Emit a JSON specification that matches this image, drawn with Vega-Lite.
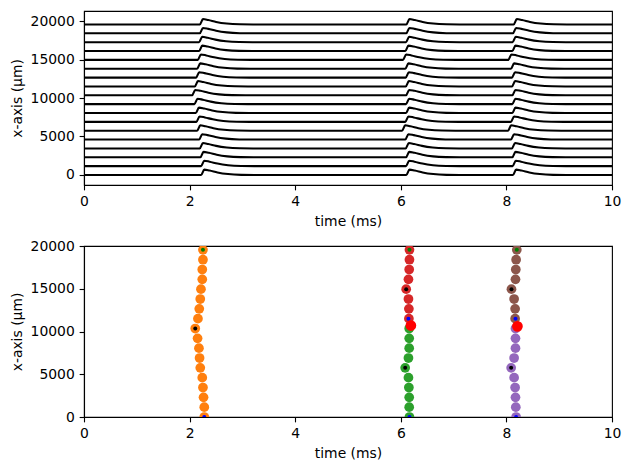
{
  "$schema": "https://vega.github.io/schema/vega-lite/v6.json",
  "autosize": {"type": "pad"},
  "padding": {"left": 9, "top": 10, "right": 5, "bottom": 5},
  "background": "white",
  "bounds": "flush",
  "spacing": 61,
  "config": {
    "view": {"stroke": "black", "strokeWidth": 1.11},
    "axis": {
      "labelFont": "DejaVu Sans", "labelFontSize": 13.9, "labelColor": "black",
      "titleFont": "DejaVu Sans", "titleFontSize": 13.9, "titleFontWeight": "normal", "titleColor": "black",
      "tickColor": "black", "tickSize": 4.86, "tickWidth": 1.11,
      "domainColor": "black", "domainWidth": 1.11,
      "labelPadding": 4.86, "titlePadding": 5.56, "format": "d",
      "labelFlush": false, "labelOverlap": false, "grid": false
    }
  },
  "datasets": {
    "traces": [
      {"i":0,"t":0,"y":0},
      {"i":0,"t":2.218,"y":0},{"i":0,"t":2.278,"y":700},{"i":0,"t":2.378,"y":580},{"i":0,"t":2.528,"y":330},{"i":0,"t":2.728,"y":120},{"i":0,"t":2.978,"y":20},{"i":0,"t":3.228,"y":0},
      {"i":0,"t":6.104,"y":0},{"i":0,"t":6.164,"y":700},{"i":0,"t":6.264,"y":580},{"i":0,"t":6.414,"y":330},{"i":0,"t":6.614,"y":120},{"i":0,"t":6.864,"y":20},{"i":0,"t":7.114,"y":0},
      {"i":0,"t":8.124,"y":0},{"i":0,"t":8.184,"y":700},{"i":0,"t":8.284,"y":580},{"i":0,"t":8.434,"y":330},{"i":0,"t":8.634,"y":120},{"i":0,"t":8.884,"y":20},{"i":0,"t":9.134,"y":0},
      {"i":0,"t":10,"y":0},

      {"i":1,"t":0,"y":1150},
      {"i":1,"t":2.218,"y":1150},{"i":1,"t":2.278,"y":1850},{"i":1,"t":2.378,"y":1730},{"i":1,"t":2.528,"y":1480},{"i":1,"t":2.728,"y":1270},{"i":1,"t":2.978,"y":1170},{"i":1,"t":3.228,"y":1150},
      {"i":1,"t":6.099,"y":1150},{"i":1,"t":6.159,"y":1850},{"i":1,"t":6.259,"y":1730},{"i":1,"t":6.409,"y":1480},{"i":1,"t":6.609,"y":1270},{"i":1,"t":6.859,"y":1170},{"i":1,"t":7.109,"y":1150},
      {"i":1,"t":8.118,"y":1150},{"i":1,"t":8.178,"y":1850},{"i":1,"t":8.278,"y":1730},{"i":1,"t":8.428,"y":1480},{"i":1,"t":8.628,"y":1270},{"i":1,"t":8.878,"y":1170},{"i":1,"t":9.128,"y":1150},
      {"i":1,"t":10,"y":1150},

      {"i":2,"t":0,"y":2300},
      {"i":2,"t":2.204,"y":2300},{"i":2,"t":2.264,"y":3000},{"i":2,"t":2.364,"y":2880},{"i":2,"t":2.514,"y":2630},{"i":2,"t":2.714,"y":2420},{"i":2,"t":2.964,"y":2320},{"i":2,"t":3.214,"y":2300},
      {"i":2,"t":6.099,"y":2300},{"i":2,"t":6.159,"y":3000},{"i":2,"t":6.259,"y":2880},{"i":2,"t":6.409,"y":2630},{"i":2,"t":6.609,"y":2420},{"i":2,"t":6.859,"y":2320},{"i":2,"t":7.109,"y":2300},
      {"i":2,"t":8.112,"y":2300},{"i":2,"t":8.172,"y":3000},{"i":2,"t":8.272,"y":2880},{"i":2,"t":8.422,"y":2630},{"i":2,"t":8.622,"y":2420},{"i":2,"t":8.872,"y":2320},{"i":2,"t":9.122,"y":2300},
      {"i":2,"t":10,"y":2300},

      {"i":3,"t":0,"y":3450},
      {"i":3,"t":2.193,"y":3450},{"i":3,"t":2.253,"y":4150},{"i":3,"t":2.353,"y":4030},{"i":3,"t":2.503,"y":3780},{"i":3,"t":2.703,"y":3570},{"i":3,"t":2.953,"y":3470},{"i":3,"t":3.203,"y":3450},
      {"i":3,"t":6.093,"y":3450},{"i":3,"t":6.153,"y":4150},{"i":3,"t":6.253,"y":4030},{"i":3,"t":6.403,"y":3780},{"i":3,"t":6.603,"y":3570},{"i":3,"t":6.853,"y":3470},{"i":3,"t":7.103,"y":3450},
      {"i":3,"t":8.105,"y":3450},{"i":3,"t":8.165,"y":4150},{"i":3,"t":8.265,"y":4030},{"i":3,"t":8.415,"y":3780},{"i":3,"t":8.615,"y":3570},{"i":3,"t":8.865,"y":3470},{"i":3,"t":9.115,"y":3450},
      {"i":3,"t":10,"y":3450},

      {"i":4,"t":0,"y":4600},
      {"i":4,"t":2.180,"y":4600},{"i":4,"t":2.240,"y":5300},{"i":4,"t":2.340,"y":5180},{"i":4,"t":2.490,"y":4930},{"i":4,"t":2.690,"y":4720},{"i":4,"t":2.940,"y":4620},{"i":4,"t":3.190,"y":4600},
      {"i":4,"t":6.085,"y":4600},{"i":4,"t":6.145,"y":5300},{"i":4,"t":6.245,"y":5180},{"i":4,"t":6.395,"y":4930},{"i":4,"t":6.595,"y":4720},{"i":4,"t":6.845,"y":4620},{"i":4,"t":7.095,"y":4600},
      {"i":4,"t":8.086,"y":4600},{"i":4,"t":8.146,"y":5300},{"i":4,"t":8.246,"y":5180},{"i":4,"t":8.396,"y":4930},{"i":4,"t":8.596,"y":4720},{"i":4,"t":8.846,"y":4620},{"i":4,"t":9.096,"y":4600},
      {"i":4,"t":10,"y":4600},

      {"i":5,"t":0,"y":5750},
      {"i":5,"t":2.142,"y":5750},{"i":5,"t":2.202,"y":6450},{"i":5,"t":2.302,"y":6330},{"i":5,"t":2.452,"y":6080},{"i":5,"t":2.652,"y":5870},{"i":5,"t":2.902,"y":5770},{"i":5,"t":3.152,"y":5750},
      {"i":5,"t":6.023,"y":5750},{"i":5,"t":6.083,"y":6450},{"i":5,"t":6.183,"y":6330},{"i":5,"t":6.333,"y":6080},{"i":5,"t":6.533,"y":5870},{"i":5,"t":6.783,"y":5770},{"i":5,"t":7.033,"y":5750},
      {"i":5,"t":8.030,"y":5750},{"i":5,"t":8.090,"y":6450},{"i":5,"t":8.190,"y":6330},{"i":5,"t":8.340,"y":6080},{"i":5,"t":8.540,"y":5870},{"i":5,"t":8.790,"y":5770},{"i":5,"t":9.040,"y":5750},
      {"i":5,"t":10,"y":5750},

      {"i":6,"t":0,"y":6900},
      {"i":6,"t":2.129,"y":6900},{"i":6,"t":2.189,"y":7600},{"i":6,"t":2.289,"y":7480},{"i":6,"t":2.439,"y":7230},{"i":6,"t":2.639,"y":7020},{"i":6,"t":2.889,"y":6920},{"i":6,"t":3.139,"y":6900},
      {"i":6,"t":6.085,"y":6900},{"i":6,"t":6.145,"y":7600},{"i":6,"t":6.245,"y":7480},{"i":6,"t":6.395,"y":7230},{"i":6,"t":6.595,"y":7020},{"i":6,"t":6.845,"y":6920},{"i":6,"t":7.095,"y":6900},
      {"i":6,"t":8.086,"y":6900},{"i":6,"t":8.146,"y":7600},{"i":6,"t":8.246,"y":7480},{"i":6,"t":8.396,"y":7230},{"i":6,"t":8.596,"y":7020},{"i":6,"t":8.846,"y":6920},{"i":6,"t":9.096,"y":6900},
      {"i":6,"t":10,"y":6900},

      {"i":7,"t":0,"y":8050},
      {"i":7,"t":2.117,"y":8050},{"i":7,"t":2.177,"y":8750},{"i":7,"t":2.277,"y":8630},{"i":7,"t":2.427,"y":8380},{"i":7,"t":2.627,"y":8170},{"i":7,"t":2.877,"y":8070},{"i":7,"t":3.127,"y":8050},
      {"i":7,"t":6.099,"y":8050},{"i":7,"t":6.159,"y":8750},{"i":7,"t":6.259,"y":8630},{"i":7,"t":6.409,"y":8380},{"i":7,"t":6.609,"y":8170},{"i":7,"t":6.859,"y":8070},{"i":7,"t":7.109,"y":8050},
      {"i":7,"t":8.112,"y":8050},{"i":7,"t":8.172,"y":8750},{"i":7,"t":8.272,"y":8630},{"i":7,"t":8.422,"y":8380},{"i":7,"t":8.622,"y":8170},{"i":7,"t":8.872,"y":8070},{"i":7,"t":9.122,"y":8050},
      {"i":7,"t":10,"y":8050},

      {"i":8,"t":0,"y":9200},
      {"i":8,"t":2.091,"y":9200},{"i":8,"t":2.151,"y":9900},{"i":8,"t":2.251,"y":9780},{"i":8,"t":2.401,"y":9530},{"i":8,"t":2.601,"y":9320},{"i":8,"t":2.851,"y":9220},{"i":8,"t":3.101,"y":9200},
      {"i":8,"t":6.099,"y":9200},{"i":8,"t":6.159,"y":9900},{"i":8,"t":6.259,"y":9780},{"i":8,"t":6.409,"y":9530},{"i":8,"t":6.609,"y":9320},{"i":8,"t":6.859,"y":9220},{"i":8,"t":7.109,"y":9200},
      {"i":8,"t":8.112,"y":9200},{"i":8,"t":8.172,"y":9900},{"i":8,"t":8.272,"y":9780},{"i":8,"t":8.422,"y":9530},{"i":8,"t":8.622,"y":9320},{"i":8,"t":8.872,"y":9220},{"i":8,"t":9.122,"y":9200},
      {"i":8,"t":10,"y":9200},

      {"i":9,"t":0,"y":10350},
      {"i":9,"t":2.047,"y":10350},{"i":9,"t":2.107,"y":11050},{"i":9,"t":2.207,"y":10930},{"i":9,"t":2.357,"y":10680},{"i":9,"t":2.557,"y":10470},{"i":9,"t":2.807,"y":10370},{"i":9,"t":3.057,"y":10350},
      {"i":9,"t":6.099,"y":10350},{"i":9,"t":6.159,"y":11050},{"i":9,"t":6.259,"y":10930},{"i":9,"t":6.409,"y":10680},{"i":9,"t":6.609,"y":10470},{"i":9,"t":6.859,"y":10370},{"i":9,"t":7.109,"y":10350},
      {"i":9,"t":8.112,"y":10350},{"i":9,"t":8.172,"y":11050},{"i":9,"t":8.272,"y":10930},{"i":9,"t":8.422,"y":10680},{"i":9,"t":8.622,"y":10470},{"i":9,"t":8.872,"y":10370},{"i":9,"t":9.122,"y":10350},
      {"i":9,"t":10,"y":10350},

      {"i":10,"t":0,"y":11500},
      {"i":10,"t":2.098,"y":11500},{"i":10,"t":2.158,"y":12200},{"i":10,"t":2.258,"y":12080},{"i":10,"t":2.408,"y":11830},{"i":10,"t":2.608,"y":11620},{"i":10,"t":2.858,"y":11520},{"i":10,"t":3.108,"y":11500},
      {"i":10,"t":6.093,"y":11500},{"i":10,"t":6.153,"y":12200},{"i":10,"t":6.253,"y":12080},{"i":10,"t":6.403,"y":11830},{"i":10,"t":6.603,"y":11620},{"i":10,"t":6.853,"y":11520},{"i":10,"t":7.103,"y":11500},
      {"i":10,"t":8.105,"y":11500},{"i":10,"t":8.165,"y":12200},{"i":10,"t":8.265,"y":12080},{"i":10,"t":8.415,"y":11830},{"i":10,"t":8.615,"y":11620},{"i":10,"t":8.865,"y":11520},{"i":10,"t":9.115,"y":11500},
      {"i":10,"t":10,"y":11500},

      {"i":11,"t":0,"y":12650},
      {"i":11,"t":2.123,"y":12650},{"i":11,"t":2.183,"y":13350},{"i":11,"t":2.283,"y":13230},{"i":11,"t":2.433,"y":12980},{"i":11,"t":2.633,"y":12770},{"i":11,"t":2.883,"y":12670},{"i":11,"t":3.133,"y":12650},
      {"i":11,"t":6.093,"y":12650},{"i":11,"t":6.153,"y":13350},{"i":11,"t":6.253,"y":13230},{"i":11,"t":6.403,"y":12980},{"i":11,"t":6.603,"y":12770},{"i":11,"t":6.853,"y":12670},{"i":11,"t":7.103,"y":12650},
      {"i":11,"t":8.105,"y":12650},{"i":11,"t":8.165,"y":13350},{"i":11,"t":8.265,"y":13230},{"i":11,"t":8.415,"y":12980},{"i":11,"t":8.615,"y":12770},{"i":11,"t":8.865,"y":12670},{"i":11,"t":9.115,"y":12650},
      {"i":11,"t":10,"y":12650},

      {"i":12,"t":0,"y":13800},
      {"i":12,"t":2.142,"y":13800},{"i":12,"t":2.202,"y":14500},{"i":12,"t":2.302,"y":14380},{"i":12,"t":2.452,"y":14130},{"i":12,"t":2.652,"y":13920},{"i":12,"t":2.902,"y":13820},{"i":12,"t":3.152,"y":13800},
      {"i":12,"t":6.085,"y":13800},{"i":12,"t":6.145,"y":14500},{"i":12,"t":6.245,"y":14380},{"i":12,"t":6.395,"y":14130},{"i":12,"t":6.595,"y":13920},{"i":12,"t":6.845,"y":13820},{"i":12,"t":7.095,"y":13800},
      {"i":12,"t":8.086,"y":13800},{"i":12,"t":8.146,"y":14500},{"i":12,"t":8.246,"y":14380},{"i":12,"t":8.396,"y":14130},{"i":12,"t":8.596,"y":13920},{"i":12,"t":8.846,"y":13820},{"i":12,"t":9.096,"y":13800},
      {"i":12,"t":10,"y":13800},

      {"i":13,"t":0,"y":14950},
      {"i":13,"t":2.155,"y":14950},{"i":13,"t":2.215,"y":15650},{"i":13,"t":2.315,"y":15530},{"i":13,"t":2.465,"y":15280},{"i":13,"t":2.665,"y":15070},{"i":13,"t":2.915,"y":14970},{"i":13,"t":3.165,"y":14950},
      {"i":13,"t":6.042,"y":14950},{"i":13,"t":6.102,"y":15650},{"i":13,"t":6.202,"y":15530},{"i":13,"t":6.352,"y":15280},{"i":13,"t":6.552,"y":15070},{"i":13,"t":6.802,"y":14970},{"i":13,"t":7.052,"y":14950},
      {"i":13,"t":8.036,"y":14950},{"i":13,"t":8.096,"y":15650},{"i":13,"t":8.196,"y":15530},{"i":13,"t":8.346,"y":15280},{"i":13,"t":8.546,"y":15070},{"i":13,"t":8.796,"y":14970},{"i":13,"t":9.046,"y":14950},
      {"i":13,"t":10,"y":14950},

      {"i":14,"t":0,"y":16100},
      {"i":14,"t":2.180,"y":16100},{"i":14,"t":2.240,"y":16800},{"i":14,"t":2.340,"y":16680},{"i":14,"t":2.490,"y":16430},{"i":14,"t":2.690,"y":16220},{"i":14,"t":2.940,"y":16120},{"i":14,"t":3.190,"y":16100},
      {"i":14,"t":6.085,"y":16100},{"i":14,"t":6.145,"y":16800},{"i":14,"t":6.245,"y":16680},{"i":14,"t":6.395,"y":16430},{"i":14,"t":6.595,"y":16220},{"i":14,"t":6.845,"y":16120},{"i":14,"t":7.095,"y":16100},
      {"i":14,"t":8.112,"y":16100},{"i":14,"t":8.172,"y":16800},{"i":14,"t":8.272,"y":16680},{"i":14,"t":8.422,"y":16430},{"i":14,"t":8.622,"y":16220},{"i":14,"t":8.872,"y":16120},{"i":14,"t":9.122,"y":16100},
      {"i":14,"t":10,"y":16100},

      {"i":15,"t":0,"y":17250},
      {"i":15,"t":2.180,"y":17250},{"i":15,"t":2.240,"y":17950},{"i":15,"t":2.340,"y":17830},{"i":15,"t":2.490,"y":17580},{"i":15,"t":2.690,"y":17370},{"i":15,"t":2.940,"y":17270},{"i":15,"t":3.190,"y":17250},
      {"i":15,"t":6.099,"y":17250},{"i":15,"t":6.159,"y":17950},{"i":15,"t":6.259,"y":17830},{"i":15,"t":6.409,"y":17580},{"i":15,"t":6.609,"y":17370},{"i":15,"t":6.859,"y":17270},{"i":15,"t":7.109,"y":17250},
      {"i":15,"t":8.118,"y":17250},{"i":15,"t":8.178,"y":17950},{"i":15,"t":8.278,"y":17830},{"i":15,"t":8.428,"y":17580},{"i":15,"t":8.628,"y":17370},{"i":15,"t":8.878,"y":17270},{"i":15,"t":9.128,"y":17250},
      {"i":15,"t":10,"y":17250},

      {"i":16,"t":0,"y":18400},
      {"i":16,"t":2.193,"y":18400},{"i":16,"t":2.253,"y":19100},{"i":16,"t":2.353,"y":18980},{"i":16,"t":2.503,"y":18730},{"i":16,"t":2.703,"y":18520},{"i":16,"t":2.953,"y":18420},{"i":16,"t":3.203,"y":18400},
      {"i":16,"t":6.104,"y":18400},{"i":16,"t":6.164,"y":19100},{"i":16,"t":6.264,"y":18980},{"i":16,"t":6.414,"y":18730},{"i":16,"t":6.614,"y":18520},{"i":16,"t":6.864,"y":18420},{"i":16,"t":7.114,"y":18400},
      {"i":16,"t":8.124,"y":18400},{"i":16,"t":8.184,"y":19100},{"i":16,"t":8.284,"y":18980},{"i":16,"t":8.434,"y":18730},{"i":16,"t":8.634,"y":18520},{"i":16,"t":8.884,"y":18420},{"i":16,"t":9.134,"y":18400},
      {"i":16,"t":10,"y":18400},

      {"i":17,"t":0,"y":19550},
      {"i":17,"t":2.193,"y":19550},{"i":17,"t":2.253,"y":20250},{"i":17,"t":2.353,"y":20130},{"i":17,"t":2.503,"y":19880},{"i":17,"t":2.703,"y":19670},{"i":17,"t":2.953,"y":19570},{"i":17,"t":3.203,"y":19550},
      {"i":17,"t":6.104,"y":19550},{"i":17,"t":6.164,"y":20250},{"i":17,"t":6.264,"y":20130},{"i":17,"t":6.414,"y":19880},{"i":17,"t":6.614,"y":19670},{"i":17,"t":6.864,"y":19570},{"i":17,"t":7.114,"y":19550},
      {"i":17,"t":8.137,"y":19550},{"i":17,"t":8.197,"y":20250},{"i":17,"t":8.297,"y":20130},{"i":17,"t":8.447,"y":19880},{"i":17,"t":8.647,"y":19670},{"i":17,"t":8.897,"y":19570},{"i":17,"t":9.147,"y":19550},
      {"i":17,"t":10,"y":19550}
    ],
    "spikes": [
      {"t":2.278,"x":0,"w":"w1"},{"t":2.278,"x":1150,"w":"w1"},{"t":2.264,"x":2300,"w":"w1"},{"t":2.253,"x":3450,"w":"w1"},{"t":2.240,"x":4600,"w":"w1"},{"t":2.202,"x":5750,"w":"w1"},
      {"t":2.189,"x":6900,"w":"w1"},{"t":2.177,"x":8050,"w":"w1"},{"t":2.151,"x":9200,"w":"w1"},{"t":2.107,"x":10350,"w":"w1"},{"t":2.158,"x":11500,"w":"w1"},{"t":2.183,"x":12650,"w":"w1"},
      {"t":2.202,"x":13800,"w":"w1"},{"t":2.215,"x":14950,"w":"w1"},{"t":2.240,"x":16100,"w":"w1"},{"t":2.240,"x":17250,"w":"w1"},{"t":2.253,"x":18400,"w":"w1"},{"t":2.253,"x":19550,"w":"w1"},

      {"t":6.164,"x":0,"w":"w2a"},{"t":6.159,"x":1150,"w":"w2a"},{"t":6.159,"x":2300,"w":"w2a"},{"t":6.153,"x":3450,"w":"w2a"},{"t":6.145,"x":4600,"w":"w2a"},
      {"t":6.083,"x":5750,"w":"w2a"},{"t":6.145,"x":6900,"w":"w2a"},{"t":6.159,"x":8050,"w":"w2a"},{"t":6.159,"x":9200,"w":"w2a"},{"t":6.159,"x":10350,"w":"w2a"},
      {"t":6.153,"x":11500,"w":"w2b"},{"t":6.153,"x":12650,"w":"w2b"},{"t":6.145,"x":13800,"w":"w2b"},{"t":6.102,"x":14950,"w":"w2b"},
      {"t":6.145,"x":16100,"w":"w2b"},{"t":6.159,"x":17250,"w":"w2b"},{"t":6.164,"x":18400,"w":"w2b"},{"t":6.164,"x":19550,"w":"w2b"},

      {"t":8.184,"x":0,"w":"w3a"},{"t":8.178,"x":1150,"w":"w3a"},{"t":8.172,"x":2300,"w":"w3a"},{"t":8.165,"x":3450,"w":"w3a"},{"t":8.146,"x":4600,"w":"w3a"},
      {"t":8.090,"x":5750,"w":"w3a"},{"t":8.146,"x":6900,"w":"w3a"},{"t":8.172,"x":8050,"w":"w3a"},{"t":8.172,"x":9200,"w":"w3a"},{"t":8.172,"x":10350,"w":"w3a"},
      {"t":8.165,"x":11500,"w":"w3b"},{"t":8.165,"x":12650,"w":"w3b"},{"t":8.146,"x":13800,"w":"w3b"},{"t":8.096,"x":14950,"w":"w3b"},
      {"t":8.172,"x":16100,"w":"w3b"},{"t":8.178,"x":17250,"w":"w3b"},{"t":8.184,"x":18400,"w":"w3b"},{"t":8.197,"x":19550,"w":"w3b"}
    ],
    "sites": [
      {"t":2.107,"x":10350,"k":"stim"},{"t":6.083,"x":5750,"k":"stim"},{"t":6.102,"x":14950,"k":"stim"},{"t":8.090,"x":5750,"k":"stim"},{"t":8.096,"x":14950,"k":"stim"},
      {"t":2.278,"x":0,"k":"low"},{"t":6.164,"x":0,"k":"low"},{"t":6.145,"x":11500,"k":"low"},{"t":8.184,"x":0,"k":"low"},{"t":8.172,"x":11500,"k":"low"},
      {"t":2.253,"x":19550,"k":"high"},{"t":6.164,"x":19550,"k":"high"},{"t":8.197,"x":19550,"k":"high"}
    ],
    "collisions": [
      {"t":6.191,"x":10700},
      {"t":8.209,"x":10600}
    ]
  },
  "vconcat": [
    {
      "width": 528,
      "height": 174,
      "data": {"name": "traces"},
      "mark": {"type": "line", "color": "black", "strokeWidth": 2.08, "interpolate": "monotone"},
      "encoding": {
        "x": {"field": "t", "type": "quantitative", "scale": {"domain": [0, 10], "nice": false}, "axis": {"title": "time (ms)", "values": [0, 2, 4, 6, 8, 10]}},
        "y": {"field": "y", "type": "quantitative", "scale": {"domain": [-1300, 21300], "nice": false, "zero": false}, "axis": {"title": "x-axis (μm)", "values": [0, 5000, 10000, 15000, 20000]}},
        "detail": {"field": "i", "type": "nominal"}
      }
    },
    {
      "width": 528,
      "height": 171,
      "encoding": {
        "x": {"field": "t", "type": "quantitative", "scale": {"domain": [0, 10], "nice": false}, "axis": {"title": "time (ms)", "values": [0, 2, 4, 6, 8, 10]}},
        "y": {"field": "x", "type": "quantitative", "scale": {"domain": [0, 20000], "nice": false}, "axis": {"title": "x-axis (μm)", "values": [0, 5000, 10000, 15000, 20000]}}
      },
      "layer": [
        {
          "data": {"name": "spikes"},
          "mark": {"type": "circle", "size": 95, "opacity": 1, "clip": true},
          "encoding": {
            "color": {"field": "w", "type": "nominal", "legend": null,
              "scale": {"domain": ["w1", "w2a", "w2b", "w3a", "w3b"], "range": ["#ff7f0e", "#2ca02c", "#d62728", "#9467bd", "#8c564b"]}}
          }
        },
        {
          "data": {"name": "sites"},
          "mark": {"type": "circle", "size": 16, "opacity": 1, "clip": true},
          "encoding": {
            "fill": {"field": "k", "type": "nominal", "legend": null,
              "scale": {"domain": ["stim", "low", "high"], "range": ["#000000", "#0000ff", "#008000"]}}
          }
        },
        {
          "data": {"name": "collisions"},
          "mark": {"type": "circle", "size": 115, "opacity": 1, "color": "#ff0000"}
        }
      ]
    }
  ]
}
